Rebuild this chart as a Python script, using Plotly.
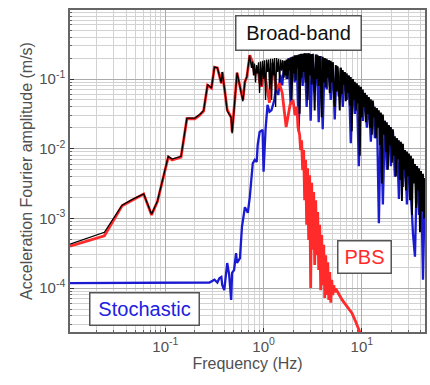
import numpy as np
import plotly.graph_objects as go

# ---------------- data (log10 frequency in Hz, log10 amplitude in m/s) ----------------
# PBS (physics-based simulation), low-frequency part, sampled points
pbs_logf = [-1.97, -1.62, -1.44, -1.34, -1.22, -1.14, -1.08, -0.97, -0.93, -0.84,
            -0.78, -0.70, -0.65, -0.61, -0.57, -0.53, -0.50, -0.47, -0.43, -0.42,
            -0.39, -0.37, -0.33, -0.32, -0.29, -0.27, -0.24, -0.21, -0.19, -0.17,
            -0.14, -0.11, -0.09, -0.06, -0.04, -0.02, 0.01, 0.03, 0.06, 0.09,
            0.13, 0.16, 0.19, 0.21, 0.23, 0.27, 0.30, 0.32, 0.34, 0.35]
pbs_logA = [-3.40, -3.25, -2.82, -2.74, -2.65, -2.95, -2.76, -2.12, -2.16, -2.12,
            -1.57, -1.57, -1.52, -1.46, -1.09, -1.13, -0.83, -0.84, -1.06, -0.90,
            -1.20, -1.44, -1.55, -1.76, -1.26, -0.91, -1.11, -1.30, -1.04, -0.97,
            -0.66, -0.77, -0.94, -0.84, -1.04, -1.11, -0.91, -1.11, -1.34, -0.77,
            -1.16, -1.06, -1.20, -1.45, -1.69, -1.37, -1.30, -1.52, -1.40, -1.69]
# PBS roll-off, regularly sampled between log f = 0.367 and 0.735
pbs_band_range = (0.367, 0.735)
pbs_band_logA = [-1.80, -2.02, -1.88, -2.31, -2.02, -2.74, -2.16, -3.09, -2.28, -3.31,
                 -2.38, -4.00, -2.49, -3.45, -2.62, -3.67, -2.74, -3.53, -2.91, -3.74,
                 -3.09, -4.03, -3.24, -3.96, -3.38, -4.14, -3.53, -4.10, -3.63, -4.17,
                 -3.77, -4.21, -3.88, -4.10, -3.96, -4.06, -4.01]
pbs_tail_logf = [0.80, 0.85, 0.90, 0.94, 0.98, 1.01]
pbs_tail_logA = [-4.17, -4.26, -4.36, -4.49, -4.63, -4.74]

# Stochastic simulation, low-frequency part
sto_logf = [-1.97, -1.47, -0.96, -0.60, -0.55, -0.50, -0.47, -0.45, -0.43, -0.42,
            -0.40, -0.37, -0.35, -0.33, -0.32, -0.30, -0.28, -0.27, -0.24, -0.22,
            -0.19, -0.16, -0.14, -0.11, -0.09, -0.07, -0.06, -0.04, -0.01, 0.00,
            0.02, 0.04, 0.06, 0.08, 0.11, 0.13, 0.15, 0.17, 0.19]
sto_logA = [-3.93, -3.93, -3.93, -3.93, -3.92, -3.88, -3.92, -3.86, -3.84, -3.96,
            -4.03, -3.64, -3.81, -4.17, -3.78, -3.74, -3.50, -3.64, -3.57, -3.12,
            -2.84, -2.92, -2.69, -2.21, -2.16, -2.19, -1.95, -1.76, -1.73, -2.33,
            -1.73, -1.37, -1.47, -1.45, -1.30, -1.09, -1.23, -0.94, -1.09]
# Stochastic high-frequency part, regularly sampled between log f = 0.214 and 1.643
sto_band_range = (0.214, 1.643)
sto_band_logA = [-0.74, -1.00, -0.70, -1.35, -0.68, -1.05, -0.66, -1.75, -0.64, -1.10,
                 -0.63, -1.40, -0.63, -1.60, -0.64, -1.20, -0.65, -1.62, -0.67, -1.72,
                 -0.70, -1.15, -0.73, -1.30, -0.76, -1.58, -0.81, -1.25, -0.84, -1.40,
                 -0.90, -1.30, -0.95, -1.92, -1.00, -1.50, -1.07, -2.25, -1.12, -1.60,
                 -1.20, -1.70, -1.27, -1.90, -1.33, -1.85, -1.42, -3.07, -1.50, -2.80,
                 -1.60, -2.30, -1.68, -2.25, -1.75, -2.40, -1.85, -2.72, -1.92, -2.55,
                 -2.02, -2.80, -2.10, -2.70, -3.22, -3.55, -2.25, -2.95, -2.35, -3.88,
                 -2.42]

# Broad-band (hybrid) spectrum
bb_logf = [-1.97, -1.62, -1.44, -1.34, -1.22, -1.14, -1.08, -0.97, -0.93, -0.84,
           -0.78, -0.70, -0.65, -0.61, -0.57, -0.53, -0.50, -0.47, -0.43, -0.42,
           -0.39, -0.37, -0.33, -0.32, -0.29, -0.27, -0.24, -0.21, -0.19, -0.17]
bb_logA = [-3.37, -3.20, -2.81, -2.73, -2.65, -2.94, -2.75, -2.11, -2.15, -2.11,
           -1.56, -1.56, -1.51, -1.45, -1.08, -1.13, -0.83, -0.84, -1.06, -0.90,
           -1.22, -1.46, -1.55, -1.78, -1.26, -0.91, -1.11, -1.32, -1.04, -0.97]
bb_mid_range = (-0.143, 0.204)
bb_mid_logA = [-0.66, -0.80, -0.84, -0.75, -0.95, -0.78, -1.05, -0.80, -0.92, -0.76,
               -1.20, -0.75, -1.10, -0.74, -1.00, -0.73, -1.30, -0.72, -0.90, -0.72,
               -1.15, -0.71, -1.30, -0.71, -0.95, -0.70, -1.40, -0.70, -0.90, -0.71,
               -1.05, -0.72, -0.88, -0.73, -0.98]
bb_band_range = (0.214, 1.643)
bb_band_logA = [-0.74, -0.95, -0.72, -1.00, -0.71, -0.88, -0.69, -1.30, -0.68, -0.92,
                -0.66, -1.02, -0.66, -0.85, -0.65, -1.50, -0.64, -0.98, -0.64, -0.90,
                -0.63, -1.05, -0.63, -1.30, -0.63, -0.95, -0.64, -1.08, -0.64, -0.92,
                -1.45, -0.65, -1.00, -0.66, -1.10, -0.67, -0.95, -1.55, -0.68, -1.05,
                -0.70, -1.12, -0.71, -0.98, -0.73, -1.20, -0.74, -1.05, -0.76, -1.15,
                -1.40, -0.80, -1.18, -0.82, -1.10, -1.45, -0.84, -1.22, -0.87, -1.08,
                -0.90, -1.32, -0.92, -1.20, -0.95, -1.38, -0.97, -1.75, -1.00, -1.30,
                -1.04, -1.45, -1.06, -1.35, -1.09, -2.10, -1.11, -1.55, -1.15, -1.40,
                -1.20, -1.62, -1.23, -1.50, -1.26, -1.70, -1.29, -1.80, -1.31, -1.55,
                -1.40, -1.85, -1.42, -1.70, -1.45, -1.95, -1.48, -2.50, -1.51, -1.80,
                -1.60, -2.05, -1.62, -2.30, -1.66, -1.95, -1.69, -2.20, -1.72, -2.10,
                -1.82, -2.40, -1.85, -2.15, -1.88, -2.45, -1.90, -2.75, -1.93, -2.30,
                -2.02, -2.60, -2.04, -2.40, -2.07, -2.74, -2.10, -2.95, -2.14, -2.50,
                -2.22, -2.85, -2.25, -2.60, -2.28, -3.20, -2.32, -2.90, -2.36, -3.00,
                -2.42]

x_tickvals = [0.1, 1, 10]
x_ticktext = ["10<sup>-1</sup>", "10<sup>0</sup>", "10<sup>1</sup>"]
y_tickvals = [1e-4, 1e-3, 1e-2, 1e-1]
y_ticktext = ["10<sup>-4</sup>", "10<sup>-3</sup>", "10<sup>-2</sup>", "10<sup>-1</sup>"]


def grid(rng, n):
    return list(np.linspace(rng[0], rng[1], n))


def to_lin(logs):
    return list(10 ** np.asarray(logs, dtype=float))


pbs_f = to_lin(pbs_logf + grid(pbs_band_range, len(pbs_band_logA)) + pbs_tail_logf)
pbs_a = to_lin(pbs_logA + pbs_band_logA + pbs_tail_logA)
sto_f = to_lin(sto_logf + grid(sto_band_range, len(sto_band_logA)))
sto_a = to_lin(sto_logA + sto_band_logA)

mid_logf = grid(bb_mid_range, len(bb_mid_logA))
band_logf = grid(bb_band_range, len(bb_band_logA))
bb_low_f = to_lin(bb_logf + mid_logf)
bb_low_a = to_lin(bb_logA + bb_mid_logA)
bb_high_f = to_lin(mid_logf[-1:] + band_logf)
bb_high_a = to_lin(bb_mid_logA[-1:] + bb_band_logA)

FONT = "Arial, Liberation Sans, sans-serif"
GREY = "#505050"

fig = go.Figure()
fig.add_trace(go.Scatter(x=sto_f, y=sto_a, mode="lines", name="Stochastic",
                         line=dict(color="#1a1ad0", width=2.3)))
fig.add_trace(go.Scatter(x=pbs_f, y=pbs_a, mode="lines", name="PBS",
                         line=dict(color="#ff2a2a", width=2.8)))
# broad-band: thin where it overlays the PBS, denser where it carries the stochastic part
fig.add_trace(go.Scatter(x=bb_low_f, y=bb_low_a, mode="lines", name="Broad-band",
                         line=dict(color="#000000", width=1.3)))
fig.add_trace(go.Scatter(x=bb_high_f, y=bb_high_a, mode="lines", name="Broad-band",
                         line=dict(color="#000000", width=1.9), showlegend=False))


def minor_vals(lo, hi):
    return [m * 10.0 ** e for e in range(lo, hi) for m in range(2, 10)]


axis_common = dict(
    type="log", showline=True, mirror=True, linecolor="#666666", linewidth=1.5,
    showgrid=True, gridcolor="#ababab", gridwidth=1,
    ticks="inside", ticklen=4, tickcolor="#333333",
    tickfont=dict(family=FONT, size=15, color=GREY),
    zeroline=False,
)

fig.update_xaxes(
    **axis_common,
    range=[-1.97, 1.643],
    tickmode="array", tickvals=x_tickvals, ticktext=x_ticktext,
    minor=dict(tickmode="array", tickvals=minor_vals(-2, 2), showgrid=True,
               gridcolor="#d2d2d2", gridwidth=1, ticks="inside", ticklen=2,
               tickcolor="#666666"),
    title=dict(text="Frequency (Hz)", font=dict(family=FONT, size=16, color=GREY),
               standoff=4),
)
fig.update_yaxes(
    **axis_common,
    range=[-4.63, -0.01],
    tickmode="array", tickvals=y_tickvals, ticktext=y_ticktext,
    minor=dict(tickmode="array", tickvals=minor_vals(-5, 0), showgrid=True,
               gridcolor="#d2d2d2", gridwidth=1, ticks="inside", ticklen=2,
               tickcolor="#666666"),
    title=dict(text="Acceleration Fourier amplitude (m/s)",
               font=dict(family=FONT, size=16, color=GREY), standoff=3),
)

box = dict(bgcolor="white", bordercolor="#555555", borderwidth=1.5, borderpad=0,
           showarrow=False, xref="x", yref="y")
fig.add_annotation(x=0.357, y=-0.333, text="Broad-band", width=124, height=33,
                   font=dict(family=FONT, size=20, color="#111111"), **box)
fig.add_annotation(x=1.031, y=-3.547, text="PBS", width=52, height=31,
                   font=dict(family=FONT, size=20, color="#ff2a2a"), **box)
fig.add_annotation(x=-1.214, y=-4.293, text="Stochastic", width=108, height=31,
                   font=dict(family=FONT, size=20, color="#2020e0"), **box)

fig.update_layout(
    width=430, height=385,
    margin=dict(l=70, r=5, t=10, b=53, autoexpand=False),
    paper_bgcolor="white", plot_bgcolor="white",
    showlegend=False,
)

fig.write_html("out.html")
